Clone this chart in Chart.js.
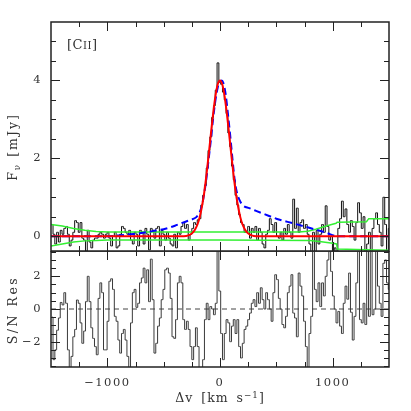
<!DOCTYPE html>
<html lang="en">
<head>
<meta charset="utf-8">
<title>[CII] spectrum</title>
<script src="https://cdn.jsdelivr.net/npm/chart.js@4.4.1/dist/chart.umd.min.js"></script>
<style>
    html, body { margin: 0; padding: 0; background: #fff; }
    body { font-family: "DejaVu Serif", serif; color: #333; }
    #wrap { position: relative; width: 411px; height: 411px; overflow: hidden; }
    #topBox { position: absolute; left: 0; top: 0; width: 411px; height: 252px; }
    #botBox { position: absolute; left: 0; top: 251px; width: 411px; height: 160px; }
    .lbl { position: absolute; white-space: nowrap; font-size: 12.5px; line-height: 1; z-index: 2; }
    .rot { transform: translate(-50%, -50%) rotate(-90deg); }
    .mid { transform: translate(-50%, -50%); }
    .sub { font-size: 70%; position: relative; top: 0.35em; }
    .sup { font-size: 70%; position: relative; top: -0.5em; }
    .sc { font-size: 78%; }
</style>
</head>
<body>
<div id="wrap">
    <div id="topBox"><canvas id="topChart"></canvas></div>
    <div id="botBox"><canvas id="botChart"></canvas></div>

    <div class="lbl" style="left:67px; top:38px; font-size:13px; letter-spacing:0.5px;">[C<span class="sc">II</span>]</div>
    <div class="lbl rot" style="left:13px; top:147px; letter-spacing:2px;">F<span class="sub">ν</span> [mJy]</div>
    <div class="lbl rot" style="left:13px; top:310px; letter-spacing:2.5px;">S/N Res</div>
    <div class="lbl mid" style="left:220px; top:398px; letter-spacing:1px; word-spacing:3px;">Δv [km s<span class="sup">−1</span>]</div>
</div>

<script>
    // channel grid of the spectrum (km/s)
    var chanStart = -1490;
    var chanWidth = 16;

    // observed flux density per channel (mJy)
    var specFlux = [
        0.3, 0.05, -0.2, 0.1, -0.15, 0.15, 0.05, 0.2, 0.25, 0.05,
        -0.25, -0.1, 0.1, 0.4, 0.35, 0.1, 0.35, -0.05, -0.1, -0.38,
        0.15, -0.15, -0.3, -0.1, -0.05, -0.05, 0.05, 0.1, 0.05, -0.05,
        0.05, 0.1, -0.05, -0.25, 0.0, 0.1, -0.3, -0.25, 0.05, 0.25,
        0.2, 0.1, 0.05, 0.15, -0.1, -0.2, 0.1, 0.05, -0.25, 0.15,
        0.1, -0.2, 0.2, 0.05, -0.35, 0.2, 0.15, -0.05, 0.2, 0.25,
        -0.25, 0.15,
        0.05, -0.1, 0.1, -0.05, -0.2, -0.25, 0.05, -0.3, 0.1, 0.05,
        0.25, 0.35, 0.2, 0.3, -0.1, 0.05, 0.2, 0.35,
        0.3, 0.42, 0.45, 0.8, 1.05, 1.3, 1.75, 2.2, 2.55, 3.05,
        3.35, 3.75, 4.45, 3.95, 3.9, 3.7, 3.5, 3.15, 2.65, 2.3,
        1.8, 1.45, 1.05, 0.8, 0.55, 0.35,
        0.3, 0.1, 0.12, 0.25, -0.05,
        0.2, 0.1, 0.25, -0.1, 0.2, 0.1, -0.2, -0.3, 0.05, 0.15,
        0.45, 0.3, 0.1, 0.35, 0.0, -0.05,
        0.1, -0.1, 0.2, 0.05, 0.3, 0.1, -0.05, 0.95, 0.2, 0.72,
        0.1, 0.35, 0.42, 0.2, 0.3, 0.05, -0.2, -0.5, 0.1, -0.5,
        0.15, -0.2, 0.05, 0.3, 0.1, 0.78, 0.25, -0.1, 0.0, -0.5,
        -0.3, -0.5, 0.2, 0.45, 0.9, 0.5, 0.7, 0.3, 0.1, 0.4,
        0.25, -0.1, 0.35, 0.86, 0.6, 0.2, 0.5, -0.5, -0.2, 0.1,
        -0.5, 0.2, 0.45, 0.6, 0.3, 0.1, -0.25, 1.0, 0.3, -0.5,
        0.2
    ];

    // signal-to-noise of the residual per channel
    var resid = [
        -0.5, -3.1, -2.5, -1.3, -0.55, 0.4, 0.25, 1.0, 0.35, -2.5,
        -3.6, -2.9, -1.7, -1.25, 0.55, 0.35, -0.85, -2.1, -1.35, 0.45,
        2.0, 0.45, -1.15, -1.8, -2.3, -2.8, 0.65, 1.6, 1.0, -2.5,
        -2.5, -0.75, 1.7, 1.85, 1.2, -0.45, -0.75, -1.9, -2.7, -1.5,
        -1.25, -1.9, -2.9, -3.6, -0.85, 1.0, 1.2, 0.1, 0.35, 1.6,
        1.9, 2.5, 1.6, 2.4, 0.45, 3.05, 0.57, -2.7, -2.1, -1.05,
        -0.55, 0.57,
        1.2, 2.4, 2.5, 2.2, 0.65, -1.7, -1.8, -0.65, 1.6, 2.0,
        1.6, -0.65, -1.25, -0.75, -1.25, -2.3, -3.1, -2.3, -1.15, -2.3,
        -3.6, -3.6, -3.1, -0.65, 0.35, -0.65, 0.15, 0, -0.35, 0.35,
        3.8, 1.1, -1.5, -3.1, -1.5, -0.65, -0.85, -2.0, -1.05, -0.65,
        -1.5, -0.65, -2.3, -3.0, -2.1, -1.25, -1.05, -0.65, -0.25, 0.35,
        0.57, 0.15, 1.0, 0.35, 1.3, 0.57, 0, 1.0, 0.57, 0,
        -0.75, 1.0, 2.1, 1.8, 0.65,
        0, -0.95, -1.15, -0.45, 1.0, 1.4, 2.1, -0.25, -0.55, -1.7,
        2.2, 1.4, 0.8, -0.75, -2.3, -3.6, -1.5, -0.45, 3.8, 1.2,
        0.45, 1.6, 0.15, 1.6, 0.8, 2.0, 3.0, 3.8, 2.3, 0.8,
        0, -0.85, -0.15, -1.05, -1.5, 0.35, 1.4, 0.6, 2.2, -0.2,
        -1.9, -0.45, 1.6, 3.8, -0.65, -0.85, 0.35, -0.95, 3.8, -0.45,
        3.8, -0.35, 0, 3.8, 1.4, 0.35, -0.45, 2.8, 3.0, 1.6,
        1.2
    ];

    // gaussian fit (red)
    var redVel = [-1500, -320, -280, -260, -240, -220, -200, -180, -160, -140, -120, -100, -80, -60, -40, -20, 0,
                  20, 40, 60, 80, 100, 120, 140, 160, 180, 200, 220, 240, 260, 280, 320, 1500];
    var redFlux = [0, 0, 0.02, 0.05, 0.10, 0.18, 0.30, 0.49, 0.77, 1.12, 1.58, 2.10, 2.65, 3.17, 3.61, 3.90, 4.00,
                   3.90, 3.61, 3.17, 2.65, 2.10, 1.58, 1.12, 0.77, 0.49, 0.30, 0.18, 0.10, 0.05, 0.02, 0, 0];

    // model with broad wing (blue dashed)
    var blueVel = [-1500, -1000, -900, -800, -700, -600, -500, -400, -330, -260, -210, -180, -160, -140, -120, -100,
                   -80, -60, -40, -20, 0, 15, 30, 50, 70, 90, 110, 130, 150, 175, 200, 260, 320, 400, 500, 650,
                   800, 940, 1040, 1500];
    var blueFlux = [0, 0, 0.02, 0.05, 0.08, 0.13, 0.18, 0.27, 0.35, 0.42, 0.49, 0.62, 0.8, 1.1, 1.5, 2.0,
                    2.5, 3.05, 3.5, 3.82, 3.97, 4.0, 3.93, 3.65, 3.15, 2.6, 2.0, 1.45, 1.12, 0.92, 0.8, 0.72, 0.65,
                    0.56, 0.45, 0.33, 0.21, 0.09, 0, 0];

    // noise envelope (green)
    var noiseHiVel = [-1500, -1400, -1300, -1200, -1100, -1000, 0, 700, 780, 850, 950, 1030, 1040, 1300, 1320, 1500];
    var noiseHiFlux = [0.3, 0.26, 0.2, 0.15, 0.12, 0.11, 0.11, 0.11, 0.13, 0.18, 0.27, 0.33, 0.36, 0.37, 0.45, 0.45];
    var noiseLoVel = [-1500, -1400, -1300, -1200, -1100, -1000, 0, 800, 900, 1000, 1035, 1042, 1300, 1500];
    var noiseLoFlux = [-0.25, -0.2, -0.15, -0.12, -0.11, -0.1, -0.1, -0.11, -0.14, -0.18, -0.2, -0.33, -0.35, -0.36];

    // labelled ticks
    var xTickLabels = [-1000, 0, 1000];
    var fluxTickLabels = [0, 2, 4];
    var resTickLabels = [-2, 0, 2];

    var chanVel = specFlux.map(function (_, i) { return chanStart + i * chanWidth; });
    function pts(xs, ys) { return ys.map(function (y, i) { return {x: xs[i], y: y}; }); }
    function fmt(v) { return v < 0 ? '\u2212' + Math.abs(v) : String(v); }

    Chart.defaults.font.family = '"DejaVu Serif", serif';
    Chart.defaults.font.size = 11.5;
    Chart.defaults.color = '#333';

    // frame with inward ticks on all four sides
    var frameTicks = {
        id: 'frameTicks',
        beforeDraw: function (chart) { chart.ctx.letterSpacing = '1.5px'; },
        afterDatasetsDraw: function (chart, args, o) {
            var ctx = chart.ctx, a = chart.chartArea;
            var xs = chart.scales.x, ys = chart.scales.y;
            ctx.save();
            ctx.strokeStyle = '#222';
            ctx.lineWidth = 1;
            ctx.beginPath();
            for (var k = Math.ceil(xs.min / o.xStep); k * o.xStep <= xs.max; k++) {
                var v = k * o.xStep;
                if (v <= xs.min || v >= xs.max) continue;
                var px = Math.round(xs.getPixelForValue(v)) + 0.5;
                var len = Math.abs(v / o.xMajor - Math.round(v / o.xMajor)) < 1e-6 ? 9 : 5;
                ctx.moveTo(px, a.top); ctx.lineTo(px, a.top + len);
                ctx.moveTo(px, a.bottom); ctx.lineTo(px, a.bottom - len);
            }
            for (var j = Math.ceil(ys.min / o.yStep); j * o.yStep <= ys.max; j++) {
                var w = j * o.yStep;
                if (w <= ys.min || w >= ys.max) continue;
                var py = Math.round(ys.getPixelForValue(w)) + 0.5;
                var ln = Math.abs(w / o.yMajor - Math.round(w / o.yMajor)) < 1e-6 ? 9 : 5;
                ctx.moveTo(a.left, py); ctx.lineTo(a.left + ln, py);
                ctx.moveTo(a.right, py); ctx.lineTo(a.right - ln, py);
            }
            ctx.stroke();
            ctx.lineWidth = 1.5;
            ctx.strokeRect(a.left, a.top, a.right - a.left, a.bottom - a.top);
            ctx.restore();
        }
    };

    function yScale(min, max, labels) {
        return {
            min: min, max: max,
            afterFit: function (s) { s.width = 51; s.paddingTop = 0; s.paddingBottom = 0; },
            afterBuildTicks: function (s) { s.ticks = labels.map(function (v) { return {value: v}; }); },
            grid: {display: false, drawTicks: false},
            border: {display: false},
            ticks: {padding: 9, autoSkip: false, callback: fmt}
        };
    }

    new Chart(document.getElementById('topChart'), {
        type: 'line',
        data: {
            datasets: [
                {data: pts(redVel, redFlux), borderColor: '#ff0000', borderWidth: 2,
                    cubicInterpolationMode: 'monotone', order: 1},
                {data: pts(blueVel, blueFlux), borderColor: '#0000ff', borderWidth: 2, borderDash: [7, 4],
                    cubicInterpolationMode: 'monotone', order: 2},
                {data: pts(noiseHiVel, noiseHiFlux), borderColor: '#33f033', borderWidth: 1.5, order: 3},
                {data: pts(noiseLoVel, noiseLoFlux), borderColor: '#33f033', borderWidth: 1.5, order: 3},
                {data: pts(chanVel, specFlux), borderColor: '#111', borderWidth: 1, stepped: 'middle', order: 4}
            ]
        },
        options: {
            animation: false,
            responsive: true,
            maintainAspectRatio: false,
            layout: {padding: {top: 22, right: 22, bottom: 1, left: 0}},
            elements: {point: {radius: 0}, line: {tension: 0}},
            plugins: {
                legend: {display: false},
                tooltip: {enabled: false},
                frameTicks: {xStep: 250, xMajor: 1000, yStep: 0.5, yMajor: 2}
            },
            scales: {
                x: {type: 'linear', min: -1500, max: 1500, display: false},
                y: yScale(-0.38, 5.5, fluxTickLabels)
            }
        },
        plugins: [frameTicks]
    });

    new Chart(document.getElementById('botChart'), {
        type: 'line',
        data: {
            datasets: [
                {data: [{x: -1500, y: 0}, {x: 1500, y: 0}], borderColor: '#444', borderWidth: 1,
                    borderDash: [5, 4], order: 2},
                {data: pts(chanVel, resid), borderColor: '#3a3a3a', borderWidth: 1, stepped: 'middle', order: 1}
            ]
        },
        options: {
            animation: false,
            responsive: true,
            maintainAspectRatio: false,
            layout: {padding: {top: 0, right: 22, bottom: 0, left: 0}},
            elements: {point: {radius: 0}, line: {tension: 0}},
            plugins: {
                legend: {display: false},
                tooltip: {enabled: false},
                frameTicks: {xStep: 250, xMajor: 1000, yStep: 0.5, yMajor: 2}
            },
            scales: {
                x: {
                    type: 'linear', min: -1500, max: 1500,
                    afterFit: function (s) { s.height = 44; s.paddingLeft = 0; s.paddingRight = 0; },
                    afterBuildTicks: function (s) { s.ticks = xTickLabels.map(function (v) { return {value: v}; }); },
                    grid: {display: false, drawTicks: false},
                    border: {display: false},
                    ticks: {padding: 9, autoSkip: false, maxRotation: 0, callback: fmt}
                },
                y: yScale(-3.55, 3.55, resTickLabels)
            }
        },
        plugins: [frameTicks]
    });
</script>
</body>
</html>
